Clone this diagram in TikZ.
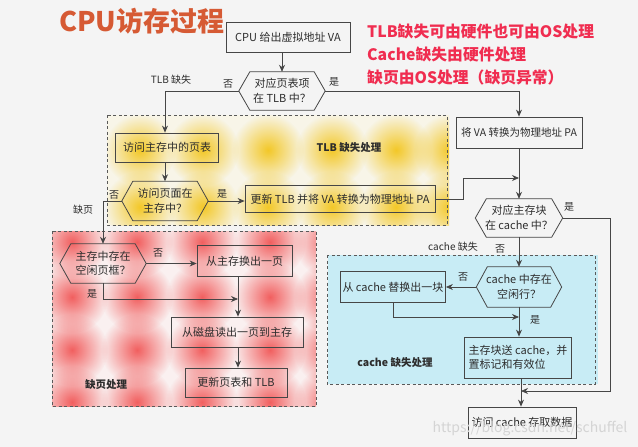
\documentclass[tikz,border=0pt]{standalone}
\usepackage{fontspec}
\setmainfont{Noto Sans CJK SC}
\usetikzlibrary{arrows.meta,calc,fadings}
\definecolor{bg}{RGB}{244,244,244}
\definecolor{linec}{RGB}{70,70,70}
\definecolor{txt}{RGB}{45,45,45}
\definecolor{titlec}{RGB}{214,90,52}
\definecolor{notec}{RGB}{240,45,80}
\definecolor{ybase}{RGB}{248,245,232}
\definecolor{yblob}{RGB}{243,200,40}
\definecolor{rbase}{RGB}{250,240,240}
\definecolor{rblob}{RGB}{240,70,70}
\definecolor{cfill}{RGB}{200,236,245}
\definecolor{wm}{RGB}{212,212,212}
\tikzfading[name=blobfade,inner color=transparent!0,outer color=transparent!100]
\begin{document}
\begin{tikzpicture}[x=1pt,y=-1pt,
  lc/.style={draw=linec,line width=0.8pt},
  arr/.style={lc,-{Stealth[length=7pt,width=6pt]}},
  boxn/.style={draw=linec,line width=0.8pt,inner sep=2pt,text=txt,align=center,font=\fontsize{11}{13.5}\selectfont},
  hexn/.style={inner sep=1pt,text=txt,align=center,font=\fontsize{11}{14.5}\selectfont},
  lab/.style={text=txt,inner sep=0pt,font=\fontsize{10}{12}\selectfont},
  reglab/.style={text=txt,inner sep=0pt,font=\fontsize{10.5}{12}\selectfont\bfseries},
  dashbox/.style={draw=linec!90,line width=0.8pt,dash pattern=on 3pt off 2.5pt},
  note/.style={anchor=west,inner sep=0pt,text=notec,font=\fontsize{15.8}{18}\selectfont\bfseries},
  yb/.style={fill=yblob,path fading=blobfade},
  rb/.style={fill=rblob,path fading=blobfade,fill opacity=0.85}]
\useasboundingbox (0,0) rectangle (638,447);
\fill[bg] (0,0) rectangle (638,447);

% ---- yellow region (TLB miss handling)
\begin{scope}
\clip (107,115) rectangle (449,225);
\fill[ybase] (107,115) rectangle (449,225);
\foreach \x in {140,203,268,332,396,450} {
  \fill[yb] (\x,150) circle (36);
  \fill[yb] (\x,207) circle (36);
}
\end{scope}
\draw[dashbox] (107,115) rectangle (447,225);

% ---- red region (page fault handling)
\begin{scope}
\clip (52,231) rectangle (316,406);
\fill[rbase] (52,231) rectangle (316,406);
\foreach \y in {242,297,350,402}
  \foreach \x in {72,137,202,270,330}
    \fill[rb] (\x,\y) circle (36);
\end{scope}
\draw[dashbox] (52,231) rectangle (316,406);

% ---- cyan region (cache miss handling)
\fill[cfill] (328,255) rectangle (598,384);
\draw[dashbox] (327,255) rectangle (595,384);

% ---- title and notes
\node[anchor=west,inner sep=0pt,text=titlec,font=\fontsize{27}{30}\selectfont\bfseries] (title) at (59,21) {CPU访存过程};
\node[note] (n1) at (367,32) {TLB缺失可由硬件也可由OS处理};
\node[note] (n2) at (367,55) {Cache缺失由硬件处理};
\node[note] (n3) at (367,77) {缺页由OS处理（缺页异常）};

% ---- boxes
\node[boxn,minimum width=124,minimum height=30] (b1) at (288,37) {CPU 给出虚拟地址 VA};
\node[hexn,minimum width=86,minimum height=38] (h1) at (282,91) {对应页表项\\在 TLB 中？};
\node[boxn,minimum width=126,minimum height=31,font=\fontsize{10.5}{13}\selectfont] (b4) at (519,132.5) {将 VA 转换为物理地址 PA};
\node[boxn,minimum width=103,minimum height=29] (b2) at (167,147.5) {访问主存中的页表};
\node[hexn,minimum width=86,minimum height=39] (h2) at (165,201) {访问页面在\\主存中？};
\node[boxn,minimum width=190,minimum height=27] (b3) at (340,199) {更新 TLB 并将 VA 转换为物理地址 PA};
\node[hexn,minimum width=87,minimum height=38] (h4) at (519,218) {对应主存块\\在 cache 中？};
\node[hexn,minimum width=85,minimum height=40] (h5) at (519,287) {cache 中存在\\空闲行？};
\node[boxn,minimum width=100,minimum height=31] (b5) at (393,287) {从 cache 替换出一块};
\node[boxn,minimum width=107,minimum height=41,align=left] (b6) at (518,357.5) {主存块送 cache，并\\置标记和有效位};
\node[boxn,minimum width=108,minimum height=31] (b7) at (522,422.5) {访问 cache 存取数据};
\node[hexn,minimum width=86,minimum height=39] (h3) at (103,263.5) {主存中存在\\空闲页框？};
\node[boxn,minimum width=95,minimum height=31] (b8) at (244.5,261) {从主存换出一页};
\node[boxn,minimum width=132,minimum height=30] (b9) at (237,332) {从磁盘读出一页到主存};
\node[boxn,minimum width=102,minimum height=29] (b10) at (236,382.5) {更新页表和 TLB};

\foreach \n in {h1,h2,h3,h4,h5}
  \draw[lc] (\n.west) -- ([xshift=11pt]\n.north west) -- ([xshift=-11pt]\n.north east)
    -- (\n.east) -- ([xshift=-11pt]\n.south east) -- ([xshift=11pt]\n.south west) -- cycle;

% ---- junction points
\coordinate (j1) at (519,178);
\coordinate (j2) at (521,391);
\coordinate (j3) at (519,317);
\coordinate (j4) at (238,299);

% ---- connectors
\draw[arr] (h1.north |- b1.south) -- (h1.north);
\draw[arr] (h1.west) -| (b2.north -| h2.north);
\draw[arr] (b2.south -| h2.north) -- (h2.north);
\draw[arr] (h1.east) -| (b4.north);
\draw[arr] (b4.south) -- (h4.north);
\draw[arr] (h2.east) -- (h2.east -| b3.west);
\draw[arr] (b3.east) -- ++(28,0) |- (j1);
\draw[arr] (h2.west) -| (h3.north);
\draw[arr] (h4.east) -- ++(48,0) |- (j2);
\draw[arr] (h4.south) -- (h5.north);
\draw[arr] (h5.west) -- (h5.west -| b5.east);
\draw[arr] (b5.south) |- (j3);
\draw[arr] (h5.south) -- (h5.south |- b6.north);
\draw[arr] (j2 |- b6.south) -- (j2 |- b7.north);
\draw[arr] (h3.east) -- (h3.east -| b8.west);
\draw[arr] (h3.south) |- (j4);
\draw[arr] (j4 |- b8.south) -- (j4 |- b9.north);
\draw[arr] (j4 |- b9.south) -- (j4 |- b10.north);

% ---- labels
\node[lab] (l1) at (171,80) {TLB 缺失};
\node[lab] (l2) at (228,84) {否};
\node[lab] (l3) at (334,82) {是};
\node[reglab] (l4) at (349,148) {TLB 缺失处理};
\node[lab] (l5) at (114,195) {否};
\node[lab] (l6) at (222,194) {是};
\node[lab] (l7) at (83,210) {缺页};
\node[lab] (l8) at (158,253) {否};
\node[lab] (l9) at (92,294) {是};
\node[reglab] (l10) at (106,385) {缺页处理};
\node[lab] (l11) at (569,207) {是};
\node[lab] (l12) at (453,247) {cache 缺失};
\node[lab] (l13) at (500,249) {否};
\node[lab] (l14) at (463,277) {否};
\node[lab] (l15) at (535,320) {是};
\node[reglab] (l16) at (395,363) {cache 缺失处理};
\node[text=wm,inner sep=0pt,font=\fontsize{14}{16}\selectfont] (wmk) at (530,429) {https://blog.csdn.net/schuffel};
\end{tikzpicture}
\end{document}
